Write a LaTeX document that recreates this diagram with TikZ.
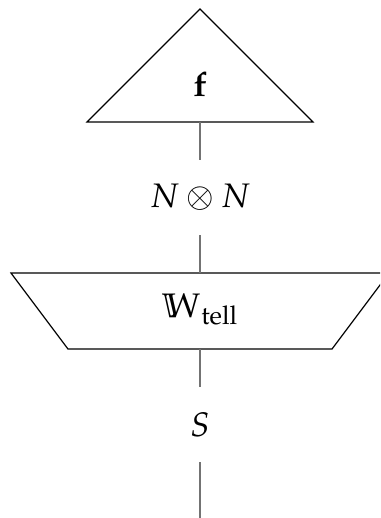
\documentclass[tikz,border=0pt]{standalone}
\usepackage{mathpazo}
\begin{document}
\begin{tikzpicture}[x=0.5pt,y=-0.5pt]
        \tikzset{
          every node/.style={font=\fontsize{17}{20}\selectfont},
          box/.style={draw=black,line width=0.6pt},
          wire/.style={draw=black!55,line width=1pt},
          lab/.style={inner sep=0pt,minimum height=37.5pt}
        }
        \useasboundingbox[clip] (0,0) rectangle (380,518);

        % state f
        \draw[box] (200,9) -- (313,122) -- (87,122) -- cycle;
        \node (f) at (200,84) {$\mathbf{f}$};
        \coordinate (fbase) at (200,122);

        % noun space
        \node[lab] (NN) at (200,197.5) {$N\otimes N$};

        % box for the verb
        \draw[box] (11,273) -- (389,273) -- (332,349) -- (68,349) -- cycle;
        \node (W) at (200,309) {$\mathbb{W}_{\mathrm{tell}}$};
        \coordinate (Wtop) at (200,273);
        \coordinate (Wbot) at (200,349);

        % sentence space
        \node[lab] (S) at (200,424.5) {$S$};
        \coordinate (out) at (200,530);

        \draw[wire] (fbase) -- (NN.north);
        \draw[wire] (NN.south) -- (Wtop);
        \draw[wire] (Wbot) -- (S.north);
        \draw[wire] (S.south) -- (out);

\end{tikzpicture}
\end{document}
